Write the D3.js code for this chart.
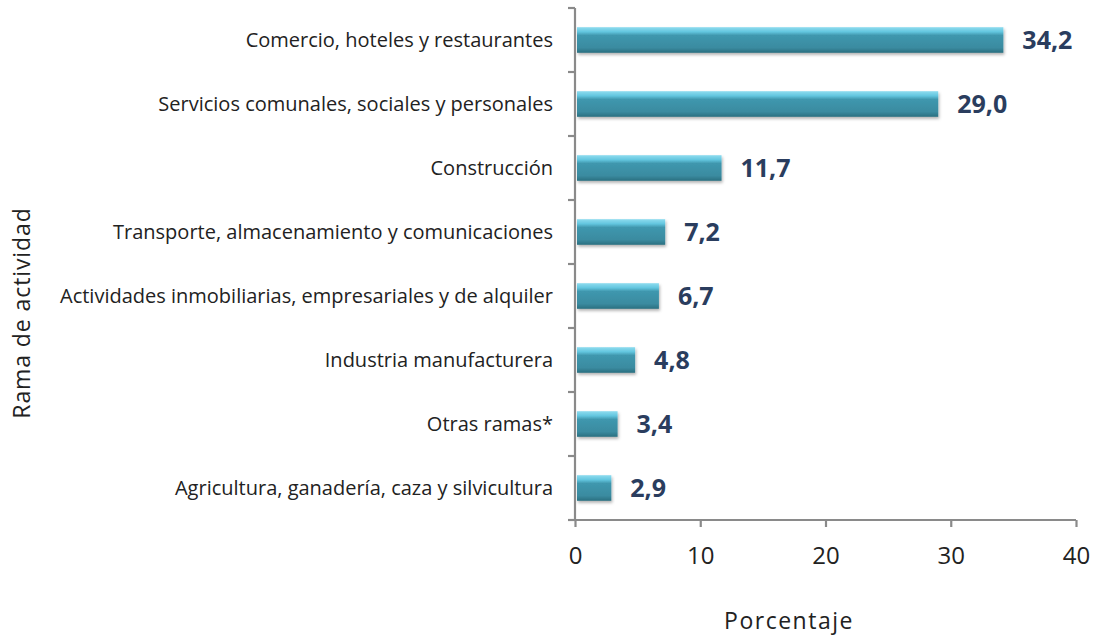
<!DOCTYPE html>
<html>
<head>
<meta charset="utf-8">
<script src="https://cdn.jsdelivr.net/npm/d3@7"></script>
<style>
  body { margin: 0; background: #fff; }
  svg { display: block; font-family: "Open Sans", sans-serif; }
</style>
</head>
<body>
<svg id="chart"></svg>
<script>
const categories = [
  'Comercio, hoteles y restaurantes',
  'Servicios comunales, sociales y personales',
  'Construcción',
  'Transporte, almacenamiento y comunicaciones',
  'Actividades inmobiliarias, empresariales y de alquiler',
  'Industria manufacturera',
  'Otras ramas*',
  'Agricultura, ganadería, caza y silvicultura'
]
const values = [34.2, 29.0, 11.7, 7.2, 6.7, 4.8, 3.4, 2.9]
const xTicks = [0, 10, 20, 30, 40]

const width = 1097
const height = 636
const margin = { top: 8, bottom: 116, left: 575, right: 21 }

const svg = d3.select('#chart')
  .attr('width', width)
  .attr('height', height)

// bar gradient (bevelled look)
const defs = svg.append('defs')
const grad = defs.append('linearGradient')
  .attr('id', 'barGrad')
  .attr('x1', 0).attr('y1', 0).attr('x2', 0).attr('y2', 1)
grad.selectAll('stop')
  .data([
    ['0%', '#8fdcef'], ['18%', '#62c6df'], ['32%', '#3f97ae'],
    ['80%', '#3a8ba0'], ['100%', '#2b6f80']
  ])
  .join('stop')
  .attr('offset', d => d[0])
  .attr('stop-color', d => d[1])

const shadow = defs.append('filter').attr('id', 'shadow')
  .attr('x', '-5%').attr('y', '-20%').attr('width', '115%').attr('height', '160%')
shadow.append('feDropShadow')
  .attr('dx', 1).attr('dy', 2).attr('stdDeviation', 1.5)
  .attr('flood-color', '#000').attr('flood-opacity', 0.3)

const xScale = d3.scaleLinear()
  .domain([0, 40])
  .range([margin.left, width - margin.right])

const yScale = d3.scaleBand()
  .domain(categories)
  .range([margin.top, height - margin.bottom])
  .paddingInner(0.6)
  .paddingOuter(0.3)

const bandStep = yScale.step()

// bars
svg.append('g')
  .selectAll('rect')
  .data(values)
  .join('rect')
  .attr('x', xScale(0) + 2)
  .attr('y', (d, i) => yScale(categories[i]))
  .attr('width', d => xScale(d) - xScale(0) - 2)
  .attr('height', yScale.bandwidth())
  .attr('fill', 'url(#barGrad)')
  .attr('filter', 'url(#shadow)')

// value labels
svg.append('g')
  .selectAll('text')
  .data(values)
  .join('text')
  .attr('x', d => xScale(d) + 19)
  .attr('y', (d, i) => yScale(categories[i]) + yScale.bandwidth() / 2)
  .attr('dy', '0.35em')
  .attr('font-size', 25)
  .attr('font-weight', 'bold')
  .attr('fill', '#2a3d5e')
  .text(d => d3.format('.1f')(d).replace('.', ','))

// y axis line + ticks at band edges
const yAxisG = svg.append('g').attr('stroke', '#8a8a8a').attr('stroke-width', 2.2)
yAxisG.append('line')
  .attr('x1', margin.left).attr('x2', margin.left)
  .attr('y1', margin.top).attr('y2', height - margin.bottom)
yAxisG.selectAll('.tk')
  .data(d3.range(categories.length + 1))
  .join('line')
  .attr('x1', margin.left - 7).attr('x2', margin.left)
  .attr('y1', i => margin.top + i * bandStep)
  .attr('y2', i => margin.top + i * bandStep)

// category labels
svg.append('g')
  .selectAll('text')
  .data(categories)
  .join('text')
  .attr('x', margin.left - 22)
  .attr('y', d => yScale(d) + yScale.bandwidth() / 2)
  .attr('dy', '0.35em')
  .attr('text-anchor', 'end')
  .attr('font-size', 20)
  .attr('fill', '#222')
  .text(d => d)

// x axis
const xAxis = d3.axisBottom(xScale).tickValues(xTicks).tickSize(7).tickPadding(20)
const xAxisG = svg.append('g')
  .attr('transform', `translate(0, ${height - margin.bottom})`)
  .call(xAxis)
xAxisG.select('.domain').attr('stroke', '#8a8a8a').attr('stroke-width', 2.2)
  .attr('d', `M${margin.left},0H${width - margin.right}`)
xAxisG.selectAll('.tick line').attr('stroke', '#8a8a8a').attr('stroke-width', 2.2)
xAxisG.selectAll('.tick text')
  .attr('font-size', 24)
  .attr('font-family', '"Open Sans", sans-serif')
  .attr('fill', '#222')

// axis titles
svg.append('text')
  .attr('x', 789)
  .attr('y', 629)
  .attr('text-anchor', 'middle')
  .attr('font-size', 23)
  .attr('fill', '#222')
  .attr('letter-spacing', 1.5)
  .text('Porcentaje')

svg.append('text')
  .attr('transform', 'translate(22, 313) rotate(-90)')
  .attr('dy', '0.35em')
  .attr('text-anchor', 'middle')
  .attr('font-size', 23)
  .attr('letter-spacing', 0.9)
  .attr('fill', '#222')
  .text('Rama de actividad')
</script>
</body>
</html>
